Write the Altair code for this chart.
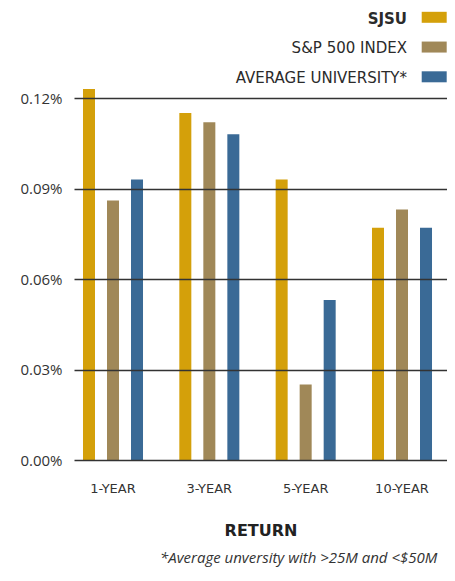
import altair as alt
import pandas as pd

periods = ["1-YEAR", "3-YEAR", "5-YEAR", "10-YEAR"]
series = ["SJSU", "S&P 500 INDEX", "AVERAGE UNIVERSITY*"]
sjsu = [0.123, 0.115, 0.093, 0.077]
sp500 = [0.086, 0.112, 0.025, 0.083]
avg_univ = [0.093, 0.108, 0.053, 0.077]
colors = ["#D4A00A", "#A08858", "#3A6A96"]
y_ticks = [0, 0.03, 0.06, 0.09, 0.12]
footnote = "*Average unversity with >25M and <$50M"

rows = []
for i, p in enumerate(periods):
    for s, vals in zip(series, [sjsu, sp500, avg_univ]):
        rows.append({"period": p, "series": s, "value": vals[i]})
df = pd.DataFrame(rows)
legend_df = pd.DataFrame({"series": series})

color = alt.Color("series:N", scale=alt.Scale(domain=series, range=colors), legend=None)

bars = alt.Chart(df).mark_bar().encode(
    x=alt.X(
        "period:N",
        sort=periods,
        scale=alt.Scale(paddingInner=0.377, paddingOuter=0.1245, align=0.375),
        axis=alt.Axis(
            title="RETURN", labelAngle=0, domain=False, ticks=False,
            labelFont="DejaVu Sans", labelFontSize=13, labelColor="#333",
            labelPadding=22, titleFont="DejaVu Sans", titleFontSize=16,
            titleFontWeight="bold", titleColor="#222", titlePadding=27,
        ),
    ),
    xOffset=alt.XOffset("series:N", sort=series,
                        scale=alt.Scale(paddingInner=0.5, paddingOuter=0)),
    y=alt.Y(
        "value:Q",
        scale=alt.Scale(domain=[0, 0.12], nice=False, zero=True),
        axis=alt.Axis(
            title=None, values=y_ticks, labelExpr="format(datum.value, '.2f') + '%'",
            domain=False, ticks=False, grid=True, gridColor="#333", gridWidth=1.4,
            zindex=1, labelFont="Open Sans", labelFontSize=15, labelColor="#333",
            labelPadding=12,
        ),
    ),
    color=color,
)

leg_y = alt.Y("series:N", sort=series,
              scale=alt.Scale(type="point", domain=series, range=[-80.7, -21.2], padding=0),
              axis=None)

leg_text_bold = alt.Chart(legend_df).transform_filter(
    alt.datum.series == series[0]
).mark_text(align="right", baseline="middle", font="DejaVu Sans", fontSize=15,
            fontWeight="bold", color="#2b2b2b", dy=2).encode(
    x=alt.value(333), y=leg_y, text="series:N")

leg_text = alt.Chart(legend_df).transform_filter(
    alt.datum.series != series[0]
).mark_text(align="right", baseline="middle", font="DejaVu Sans", fontSize=15,
            color="#2b2b2b", dy=1).encode(
    x=alt.value(333), y=leg_y, text="series:N")

leg_swatch = alt.Chart(legend_df).mark_point(
    shape="M-1,-0.44L1,-0.44L1,0.44L-1,0.44Z", filled=True, opacity=1, size=625
).encode(x=alt.value(360.2), y=leg_y, color=color)

chart = alt.layer(bars, leg_text_bold, leg_text, leg_swatch).resolve_scale(
    y="independent"
).properties(
    width=373,
    height=362,
    autosize=alt.AutoSizeParams(type="none"),
    padding={"left": 66, "top": 90, "right": 0, "bottom": 109},
    title=alt.TitleParams(
        text=footnote, orient="bottom", anchor="start", frame="group", dx=86,
        font="Open Sans", fontSize=15, fontStyle="italic", fontWeight="normal",
        color="#333", offset=13,
    ),
    background="white",
).configure_view(stroke=None)

chart.save("out.html", embed_options={"renderer": "svg", "actions": False})
